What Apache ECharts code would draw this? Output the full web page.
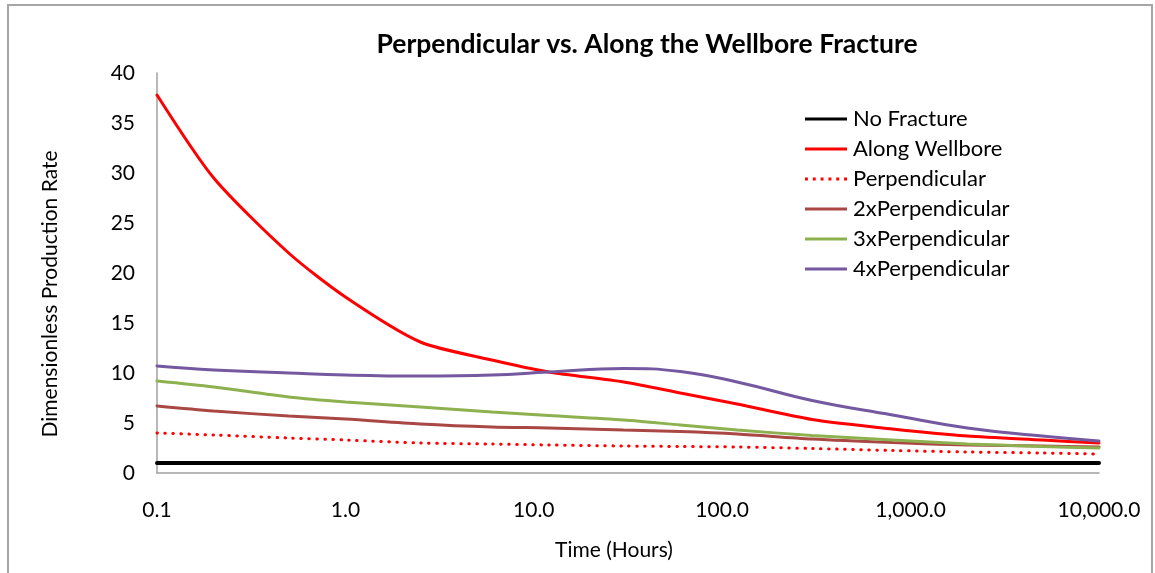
<!DOCTYPE html>
<html>
<head>
<meta charset="utf-8">
<script src="https://cdn.jsdelivr.net/npm/echarts@6/dist/echarts.min.js"></script>
<style>
html,body{margin:0;padding:0;background:#fff;}
#chart{width:1155px;height:573px;}
</style>
</head>
<body>
<div id="chart"></div>
<script>
const times = [0.1, 0.2, 0.5, 1, 2.5, 6, 12, 30, 60, 120, 300, 800, 2000, 5000, 10000];
const noFracture       = [1, 1, 1, 1, 1, 1, 1, 1, 1, 1, 1, 1, 1, 1, 1];
const alongWellbore    = [37.8, 29.5, 22.0, 17.6, 13.1, 11.3, 10.1, 9.1, 8.0, 6.9, 5.35, 4.4, 3.7, 3.3, 3.0];
const perpendicular    = [4.0, 3.8, 3.5, 3.3, 3.0, 2.9, 2.8, 2.7, 2.65, 2.6, 2.45, 2.25, 2.1, 2.0, 1.9];
const perpendicular2x  = [6.7, 6.2, 5.7, 5.4, 4.9, 4.6, 4.5, 4.3, 4.15, 3.9, 3.4, 3.05, 2.8, 2.7, 2.6];
const perpendicular3x  = [9.2, 8.6, 7.6, 7.1, 6.6, 6.1, 5.75, 5.3, 4.8, 4.3, 3.75, 3.3, 2.9, 2.65, 2.5];
const perpendicular4x  = [10.7, 10.3, 10.0, 9.8, 9.7, 9.8, 10.1, 10.45, 10.15, 9.1, 7.25, 5.8, 4.5, 3.7, 3.2];
const seriesNames = ['No Fracture', 'Along Wellbore', 'Perpendicular', '2xPerpendicular', '3xPerpendicular', '4xPerpendicular'];
const yTicks = [0, 5, 10, 15, 20, 25, 30, 35, 40];

const pairs = vals => times.map((t, i) => [t, vals[i]]);
const font = 'Lato, "Open Sans", sans-serif';

function fmtX(v) {
  return Number(v).toLocaleString('en-US', {minimumFractionDigits: 1, maximumFractionDigits: 1});
}

const solidIcon = 'rect';
const dotIcon = 'path://M0,0h3v3h-3z M8,0h3v3h-3z M16,0h3v3h-3z M24,0h3v3h-3z M32,0h3v3h-3z M40,0h3v3h-3z';

const chart = echarts.init(document.getElementById('chart'));
const mk = (name, vals, color, width, type, smooth) => ({
  name: name, type: 'line', data: pairs(vals), showSymbol: false, symbol: 'none',
  smooth: smooth, lineStyle: {color: color, width: width, type: type, cap: 'round'},
  itemStyle: {color: color}, z: 2
});
chart.setOption({
  animation: false,
  backgroundColor: '#fff',
  title: {
    text: 'Perpendicular vs. Along the Wellbore Fracture',
    left: 642, top: 26, textAlign: 'center',
    textStyle: {fontFamily: font, fontSize: 26.5, fontWeight: 'bold', color: '#000'}
  },
  graphic: [
    {type: 'rect', shape: {x: 8, y: 5, width: 1144, height: 620}, style: {fill: 'none', stroke: '#A6A6A6', lineWidth: 2}, silent: true},
    {type: 'text', x: 50, y: 294, rotation: Math.PI / 2, style: {text: 'Dimensionless Production Rate', fontFamily: font, fontSize: 21, fill: '#000', align: 'center', verticalAlign: 'middle'}},
    {type: 'text', x: 614, y: 550, style: {text: 'Time (Hours)', fontFamily: font, fontSize: 21, fill: '#000', align: 'center', verticalAlign: 'middle'}}
  ],
  legend: {
    orient: 'vertical', left: 805, top: 108, itemGap: 8, itemWidth: 42, itemHeight: 3, padding: 0,
    data: seriesNames.map((n, i) => ({name: n, icon: i === 2 ? dotIcon : solidIcon})),
    textStyle: {fontFamily: font, fontSize: 22, lineHeight: 21, color: '#000', padding: [0, 0, 0, 1]}
  },
  grid: {left: 157, right: 56, top: 73, bottom: 100, containLabel: false},
  xAxis: {
    type: 'log', logBase: 10, min: 0.1, max: 10000,
    axisLine: {lineStyle: {color: '#A0A0A0', width: 1.5}},
    axisTick: {show: false},
    splitLine: {show: false},
    minorTick: {show: false},
    axisLabel: {fontFamily: font, fontSize: 21, color: '#000', margin: 27, formatter: fmtX}
  },
  yAxis: {
    type: 'value', min: yTicks[0], max: yTicks[yTicks.length - 1], interval: 5,
    axisLine: {show: true, lineStyle: {color: '#A0A0A0', width: 1.5}},
    axisTick: {show: false},
    splitLine: {show: false},
    axisLabel: {fontFamily: font, fontSize: 21, color: '#000', margin: 22}
  },
  series: [
    mk(seriesNames[0], noFracture, '#000000', 4, 'solid', false),
    mk(seriesNames[1], alongWellbore, '#FF0000', 3, 'solid', 0.25),
    mk(seriesNames[2], perpendicular, '#FF0000', 3, [0.5, 7.5], 0.3),
    mk(seriesNames[3], perpendicular2x, '#A94744', 3, 'solid', 0.3),
    mk(seriesNames[4], perpendicular3x, '#8DB14F', 3, 'solid', 0.3),
    mk(seriesNames[5], perpendicular4x, '#7459A0', 3, 'solid', 0.45)
  ]
});
</script>
</body>
</html>
